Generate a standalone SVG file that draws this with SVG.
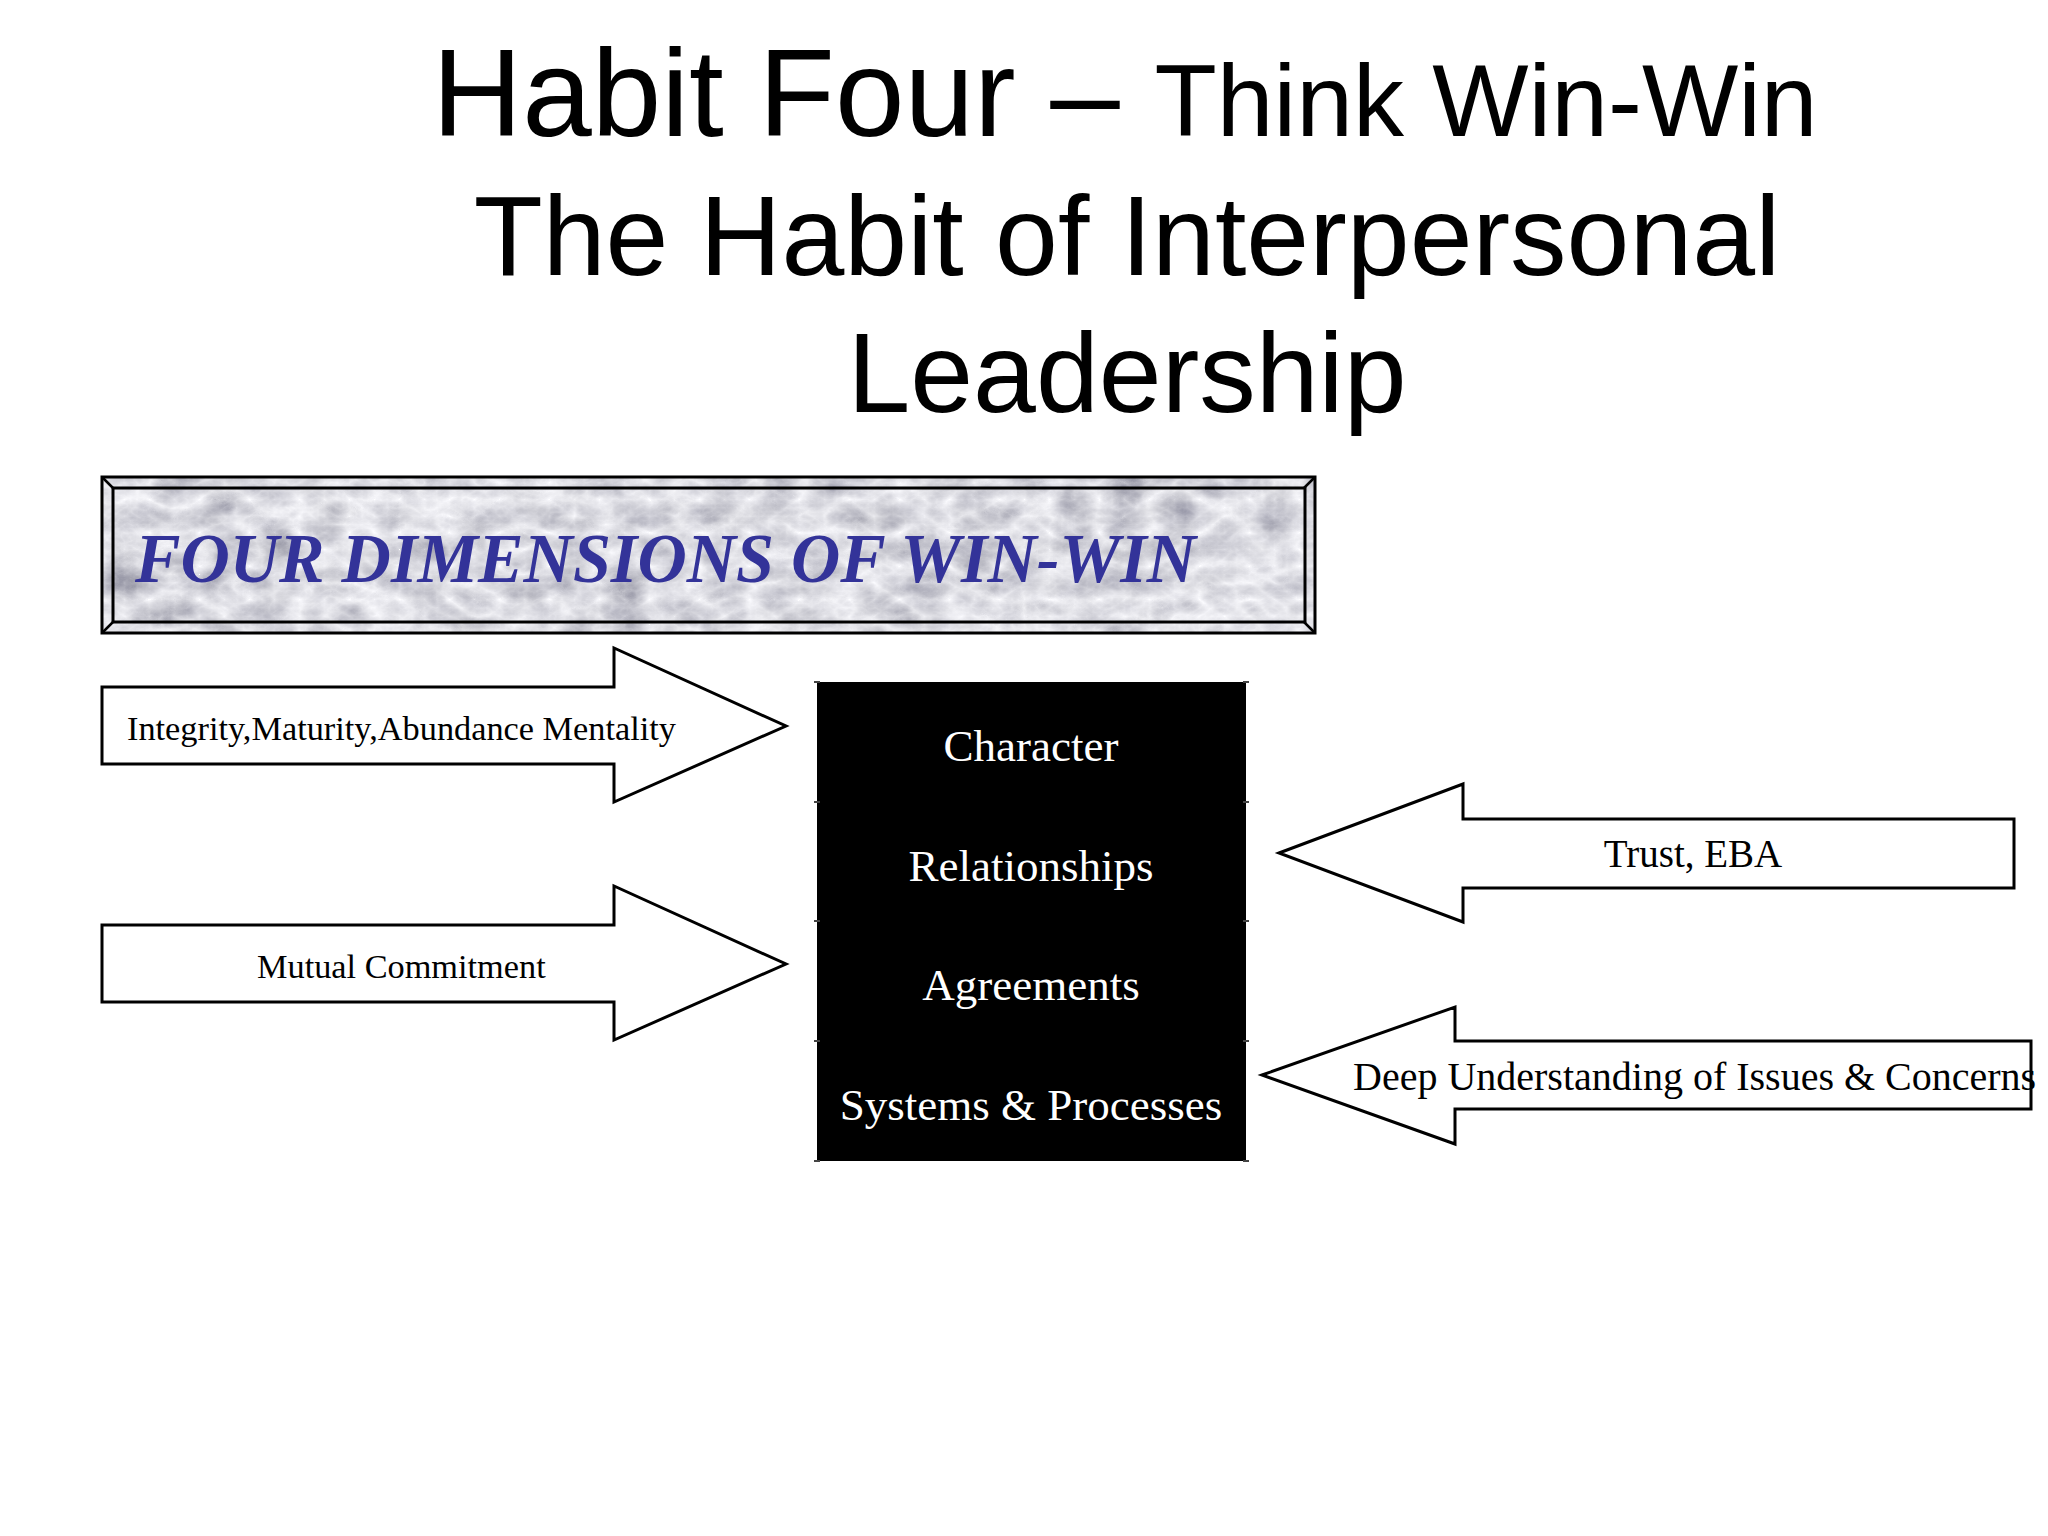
<svg xmlns="http://www.w3.org/2000/svg" width="2048" height="1536" viewBox="0 0 2048 1536">
  <defs>
    <filter id="marble" x="0" y="0" width="1" height="1" filterUnits="objectBoundingBox">
      <feTurbulence type="turbulence" baseFrequency="0.02 0.03" numOctaves="5" seed="11" result="t"/>
      <feColorMatrix in="t" type="matrix" values="-0.6 -0.25 0 0 1.0  -0.6 -0.25 0 0 1.0  -0.55 -0.25 0 0 1.03  0 0 0 0 1"/>
    </filter>
    <style>
      .title { font-family: "Liberation Sans", Arial, sans-serif; fill: #000; }
      .arrow { fill: #fff; stroke: #000; stroke-width: 3; stroke-linejoin: miter; }
      .alabel { font-family: "Liberation Serif", "Times New Roman", serif; fill: #000; }
      .cell { fill: #000; stroke: none; }
      .tick { stroke: #444; stroke-width: 2; }
      .celltext { font-family: "Liberation Serif", "Times New Roman", serif; font-size: 45px; fill: #fff; text-anchor: middle; }
      .frame { fill: none; stroke: #000; stroke-width: 3; }
    </style>
  </defs>
  <rect width="2048" height="1536" fill="#fff"/>

  <g id="title">
    <text class="title" x="432" y="136" font-size="125">Habit Four – <tspan font-size="102">Think Win-Win</tspan></text>
    <text class="title" x="1127" y="275" font-size="113" text-anchor="middle">The Habit of Interpersonal</text>
    <text class="title" x="1127" y="412" font-size="113" text-anchor="middle">Leadership</text>
  </g>

  <g id="banner">
    <rect x="102" y="477" width="1213" height="156" fill="#ddd" filter="url(#marble)"/>
    <rect class="frame" x="102" y="477" width="1213" height="156"/>
    <rect class="frame" x="113" y="488" width="1192" height="134"/>
    <path d="M102 477 L113 488 M1315 477 L1304 488 M102 633 L113 622 M1315 633 L1304 622" stroke="#000" stroke-width="2.5" fill="none"/>
    <text x="135" y="582" font-family="'Liberation Serif', 'Times New Roman', serif" font-weight="bold" font-style="italic" font-size="70" textLength="1061" lengthAdjust="spacingAndGlyphs" fill="#333399">FOUR DIMENSIONS OF WIN-WIN</text>
  </g>

  <g id="dimensions">
    <rect class="cell" x="817" y="682" width="429" height="479"/>
    <path class="tick" d="M814 682h6 M1243 682h6 M814 802h6 M1243 802h6 M814 921h6 M1243 921h6 M814 1041h6 M1243 1041h6 M814 1161h6 M1243 1161h6"/>
    <text class="celltext" x="1031" y="761">Character</text>
    <text class="celltext" x="1031" y="881">Relationships</text>
    <text class="celltext" x="1031" y="1000">Agreements</text>
    <text class="celltext" x="1031" y="1120">Systems &amp; Processes</text>
  </g>

  <g id="connectors">
    <g id="arrow-integrity">
      <polygon class="arrow" points="102,687 614,687 614,648 786,726 614,802 614,764 102,764"/>
      <text class="alabel" x="127" y="740" font-size="34.3">Integrity,Maturity,Abundance Mentality</text>
    </g>
    <g id="arrow-mutual">
      <polygon class="arrow" points="102,925 614,925 614,886 786,964 614,1040 614,1002 102,1002"/>
      <text class="alabel" x="257" y="978" font-size="34.3">Mutual Commitment</text>
    </g>
    <g id="arrow-trust">
      <polygon class="arrow" points="1279,853 1463,784 1463,819 2014,819 2014,888 1463,888 1463,922"/>
      <text class="alabel" x="1693" y="867" font-size="39" text-anchor="middle">Trust, EBA</text>
    </g>
    <g id="arrow-deep">
      <polygon class="arrow" points="1262,1075 1455,1007 1455,1041 2031,1041 2031,1109 1455,1109 1455,1144"/>
      <text class="alabel" x="1353" y="1090" font-size="40">Deep Understanding of Issues &amp; Concerns</text>
    </g>
  </g>
</svg>
